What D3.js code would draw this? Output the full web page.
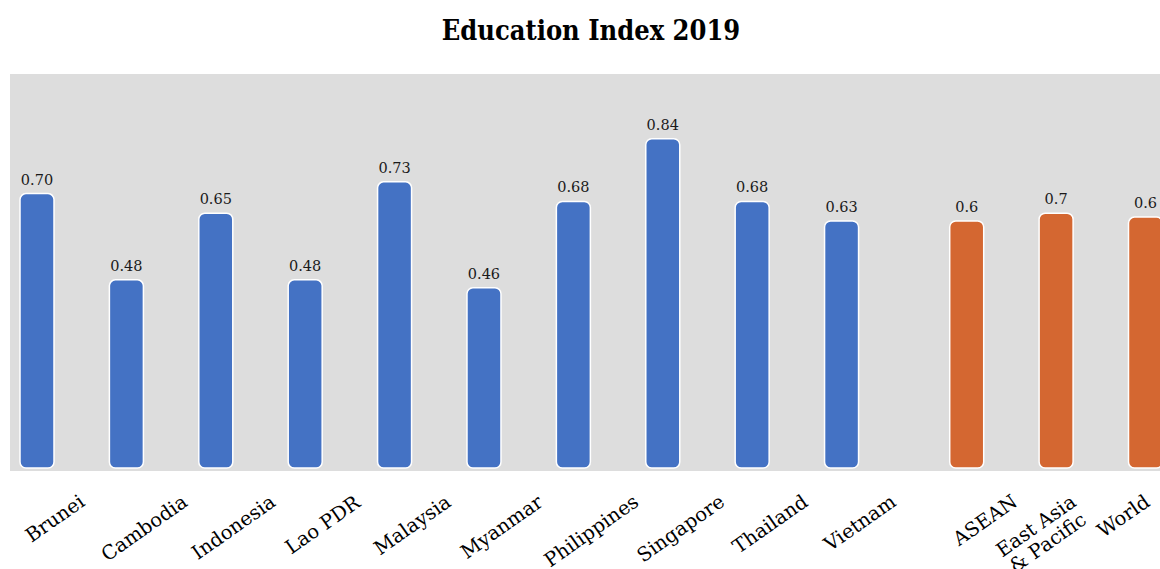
<!DOCTYPE html>
<meta charset="utf-8">
<title>Education Index 2019</title>
<style>
    body { margin: 0; background: #fff; }
    .title { font-family: "DejaVu Serif Condensed", "DejaVu Serif", serif; font-weight: bold; font-size: 27px; fill: #000; }
    .value { font-family: "DejaVu Serif", serif; font-size: 14.5px; fill: #1a1a1a; }
    .cat { font-family: "DejaVu Serif", serif; font-size: 19.5px; fill: #000; }
</style>
<body>
<div id="chart"></div>
<script src="https://d3js.org/d3.v7.min.js"></script>
<script>

    // data
    var countries = ["Brunei", "Cambodia", "Indonesia", "Lao PDR", "Malaysia", "Myanmar",
        "Philippines", "Singapore", "Thailand", "Vietnam"];
    var countryValues = [0.70, 0.48, 0.65, 0.48, 0.73, 0.46, 0.68, 0.84, 0.68, 0.63];

    var regions = ["ASEAN", "East Asia & Pacific", "World"];
    var regionValues = [0.63, 0.65, 0.64];

    var width = 1160, height = 569;
    var plot = { left: 10, top: 74, right: 1160, bottom: 471 };
    var groupGap = 0.4;   // extra space between the countries and the regions
    var barWidth = 34;

    // build one list of bars
    var bars = countries.map(function (c, i) {
        return { name: c, value: countryValues[i], pos: i, kind: "country" };
    }).concat(regions.map(function (r, i) {
        return { name: r, value: regionValues[i], pos: countries.length + groupGap + i, kind: "region" };
    }));

    var x = d3.scaleLinear()
        .domain([0, d3.max(bars, function (d) { return d.pos; })])
        .range([37, 1145.5]);
    var y = d3.scaleLinear().domain([0, 1]).range([468, 76]);

    var color = { country: "#4472C4", region: "#D46731" };
    var fmt = { country: d3.format(".2f"), region: d3.format(".1f") };

    var svg = d3.select("#chart").append("svg")
        .attr("width", width)
        .attr("height", height);

    svg.append("text")
        .attr("class", "title")
        .attr("x", 591)
        .attr("y", 40)
        .attr("text-anchor", "middle")
        .text("Education Index 2019");

    // plot background
    svg.append("rect")
        .attr("x", plot.left)
        .attr("y", plot.top)
        .attr("width", plot.right - plot.left)
        .attr("height", plot.bottom - plot.top)
        .attr("fill", "#DDDDDD");

    // bars
    svg.selectAll(".bar")
        .data(bars)
        .enter().append("rect")
        .attr("class", "bar")
        .attr("x", function (d) { return x(d.pos) - barWidth / 2; })
        .attr("y", function (d) { return y(d.value); })
        .attr("width", barWidth)
        .attr("height", function (d) { return y(0) - y(d.value); })
        .attr("rx", 6)
        .attr("ry", 6)
        .attr("fill", function (d) { return color[d.kind]; })
        .attr("stroke", "#fff")
        .attr("stroke-width", 1.5);

    // value labels
    svg.selectAll(".value")
        .data(bars)
        .enter().append("text")
        .attr("class", "value")
        .attr("x", function (d) { return x(d.pos); })
        .attr("y", function (d) { return y(d.value) - 9; })
        .attr("text-anchor", "middle")
        .text(function (d) { return fmt[d.kind](d.value); });

    // rotated category labels
    function wrap(name) {
        var i = name.indexOf(" &");
        return i > 0 ? [name.slice(0, i), name.slice(i + 1)] : [name];
    }

    var labelTop = 490;
    var cats = svg.selectAll(".catg")
        .data(bars)
        .enter().append("g")
        .attr("class", "catg");

    cats.each(function (d) {
        var g = d3.select(this);
        var lines = wrap(d.name);
        var t = g.append("g").attr("transform", "rotate(-35)")
            .append("text")
            .attr("class", "cat")
            .attr("text-anchor", "middle");
        lines.forEach(function (l, i) {
            t.append("tspan")
                .attr("x", 0)
                .attr("dy", i === 0 ? 0 : "1.05em")
                .text(l);
        });
        var bb = this.getBBox();
        var cx = x(d.pos) + (lines.length > 1 ? -14 : 18);
        // keep the label inside the picture
        cx = Math.min(cx, width - 6 - bb.width / 2);
        var tx = cx - (bb.x + bb.width / 2);
        var ty = labelTop - bb.y;
        g.attr("transform", "translate(" + tx + "," + ty + ")");
    });

</script>
</body>
